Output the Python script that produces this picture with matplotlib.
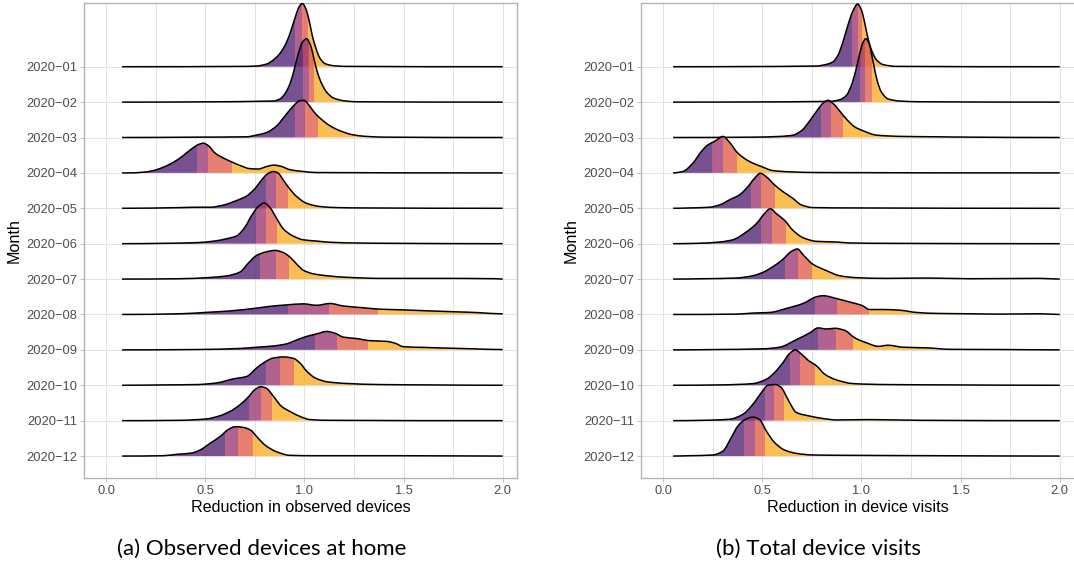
import numpy as np
import matplotlib
matplotlib.use('Agg')
import matplotlib.pyplot as plt
from matplotlib.patches import Rectangle, PathPatch
from matplotlib.path import Path

plt.rcParams['font.family'] = ['Liberation Sans', 'DejaVu Sans']

months = ['2020−01', '2020−02', '2020−03', '2020−04', '2020−05', '2020−06',
          '2020−07', '2020−08', '2020−09', '2020−10', '2020−11', '2020−12']

# (x, density height in row units), one list per month
home_pts = [
    [(0.08, 0), (0.70, 0.01), (0.759, 0.02), (0.809, 0.075), (0.843, 0.19), (0.877, 0.38), (0.907, 0.66),
     (0.930, 0.99), (0.952, 1.37), (0.972, 1.68), (0.989, 1.79), (1.006, 1.65), (1.023, 1.32), (1.039, 0.89),
     (1.058, 0.52), (1.078, 0.24), (1.103, 0.09), (1.145, 0.03), (1.213, 0.01), (2.0, 0)],
    [(0.08, 0), (0.843, 0.03), (0.877, 0.09), (0.902, 0.24), (0.927, 0.52), (0.947, 0.89), (0.969, 1.37),
     (0.989, 1.69), (1.011, 1.79), (1.031, 1.60), (1.048, 1.22), (1.065, 0.85), (1.087, 0.52), (1.112, 0.28),
     (1.145, 0.12), (1.196, 0.04), (1.263, 0.01), (2.0, 0)],
    [(0.08, 0), (0.45, 0.01), (0.709, 0.02), (0.759, 0.07), (0.809, 0.14), (0.860, 0.33), (0.902, 0.61),
     (0.944, 0.89), (0.977, 1.04), (0.998, 1.05), (1.019, 0.94), (1.044, 0.75), (1.078, 0.55), (1.129, 0.33),
     (1.179, 0.19), (1.246, 0.075), (1.313, 0.03), (1.414, 0.01), (2.0, 0)],
    [(0.08, 0), (0.12, 0), (0.188, 0.02), (0.238, 0.066), (0.288, 0.16), (0.339, 0.30), (0.389, 0.49),
     (0.431, 0.68), (0.465, 0.80), (0.490, 0.84), (0.515, 0.77), (0.549, 0.56), (0.591, 0.42), (0.633, 0.31),
     (0.675, 0.21), (0.725, 0.12), (0.767, 0.11), (0.809, 0.18), (0.846, 0.22), (0.885, 0.18), (0.927, 0.09),
     (0.994, 0.04), (1.061, 0.01), (2.0, 0)],
    [(0.08, 0), (0.372, 0.02), (0.457, 0.03), (0.524, 0.03), (0.591, 0.09), (0.658, 0.22), (0.709, 0.35),
     (0.751, 0.56), (0.784, 0.80), (0.813, 0.97), (0.843, 1.04), (0.868, 0.99), (0.893, 0.80), (0.924, 0.56),
     (0.961, 0.33), (1.011, 0.14), (1.078, 0.05), (1.162, 0.02), (1.297, 0.01), (2.0, 0)],
    [(0.08, 0), (0.288, 0.01), (0.457, 0.03), (0.540, 0.07), (0.608, 0.14), (0.658, 0.22), (0.700, 0.47),
     (0.734, 0.80), (0.767, 1.05), (0.797, 1.15), (0.826, 1.02), (0.860, 0.71), (0.893, 0.42), (0.935, 0.24),
     (0.994, 0.11), (1.061, 0.075), (1.129, 0.04), (1.263, 0.02), (1.465, 0.01), (2.0, 0)],
    [(0.08, 0), (0.372, 0.01), (0.507, 0.04), (0.608, 0.09), (0.675, 0.20), (0.717, 0.45), (0.759, 0.67),
     (0.801, 0.76), (0.851, 0.81), (0.893, 0.75), (0.927, 0.62), (0.961, 0.42), (0.994, 0.25), (1.044, 0.15),
     (1.129, 0.085), (1.213, 0.05), (1.380, 0.02), (1.633, 0.02), (1.969, 0.01), (2.0, 0)],
    [(0.08, 0), (0.372, 0.02), (0.507, 0.06), (0.624, 0.10), (0.759, 0.18), (0.843, 0.24), (0.910, 0.27),
     (0.994, 0.30), (1.061, 0.26), (1.129, 0.31), (1.196, 0.24), (1.297, 0.19), (1.380, 0.15), (1.499, 0.13),
     (1.633, 0.10), (1.767, 0.075), (1.885, 0.05), (1.985, 0.02), (2.0, 0.02)],
    [(0.08, 0), (0.457, 0.01), (0.675, 0.04), (0.759, 0.075), (0.843, 0.11), (0.910, 0.17), (0.961, 0.28),
     (1.011, 0.38), (1.061, 0.45), (1.112, 0.52), (1.154, 0.47), (1.196, 0.36), (1.263, 0.32), (1.330, 0.26),
     (1.414, 0.24), (1.456, 0.19), (1.499, 0.09), (1.599, 0.07), (1.717, 0.05), (1.851, 0.03), (1.985, 0.01),
     (2.0, 0.01)],
    [(0.08, 0), (0.288, 0.01), (0.457, 0.02), (0.557, 0.066), (0.641, 0.18), (0.709, 0.25), (0.759, 0.49),
     (0.801, 0.66), (0.843, 0.77), (0.893, 0.80), (0.944, 0.76), (0.977, 0.63), (1.011, 0.40), (1.053, 0.21),
     (1.112, 0.10), (1.213, 0.05), (1.380, 0.02), (1.633, 0.01), (2.0, 0)],
    [(0.08, 0), (0.372, 0.01), (0.507, 0.05), (0.574, 0.14), (0.624, 0.26), (0.675, 0.45), (0.717, 0.67),
     (0.751, 0.88), (0.779, 0.96), (0.809, 0.91), (0.843, 0.69), (0.885, 0.40), (0.927, 0.26), (0.977, 0.12),
     (1.028, 0.03), (1.129, 0.01), (2.0, 0)],
    [(0.08, 0), (0.288, 0.01), (0.356, 0.05), (0.431, 0.085), (0.473, 0.17), (0.524, 0.36), (0.574, 0.55),
     (0.616, 0.75), (0.650, 0.83), (0.692, 0.81), (0.729, 0.73), (0.759, 0.55), (0.801, 0.31), (0.860, 0.12),
     (0.927, 0.02), (1.044, 0.01), (1.465, 0.01), (2.0, 0)],
]
home_quartiles = [
    (0.952, 0.986, 1.016), (0.994, 1.023, 1.050), (0.952, 1.003, 1.070), (0.457, 0.515, 0.636),
    (0.806, 0.856, 0.915), (0.756, 0.804, 0.860), (0.776, 0.855, 0.924), (0.915, 1.123, 1.373),
    (1.053, 1.162, 1.318), (0.804, 0.877, 0.948), (0.720, 0.779, 0.835), (0.599, 0.666, 0.742),
]

visits_pts = [
    [(0.05, 0), (0.773, 0.02), (0.823, 0.066), (0.857, 0.14), (0.882, 0.33), (0.907, 0.71), (0.932, 1.18),
     (0.955, 1.55), (0.980, 1.77), (1.000, 1.60), (1.017, 1.22), (1.033, 0.80), (1.054, 0.42), (1.076, 0.19),
     (1.109, 0.06), (1.177, 0.01), (2.0, 0)],
    [(0.05, 0), (0.840, 0.02), (0.890, 0.066), (0.924, 0.19), (0.949, 0.47), (0.971, 0.89), (0.991, 1.37),
     (1.008, 1.69), (1.022, 1.79), (1.038, 1.65), (1.059, 1.13), (1.079, 0.61), (1.101, 0.28), (1.134, 0.09),
     (1.194, 0.03), (1.295, 0.01), (2.0, 0)],
    [(0.05, 0), (0.452, 0.01), (0.587, 0.03), (0.654, 0.066), (0.697, 0.19), (0.739, 0.47), (0.781, 0.80),
     (0.810, 0.99), (0.831, 1.05), (0.857, 0.96), (0.890, 0.75), (0.924, 0.52), (0.966, 0.30), (1.008, 0.19),
     (1.076, 0.066), (1.210, 0.03), (1.379, 0.02), (1.547, 0.01), (2.0, 0)],
    [(0.05, 0), (0.099, 0.04), (0.149, 0.27), (0.192, 0.60), (0.225, 0.79), (0.259, 0.89), (0.301, 1.03),
     (0.335, 0.86), (0.376, 0.56), (0.436, 0.32), (0.495, 0.18), (0.553, 0.066), (0.638, 0.03), (0.789, 0.01),
     (2.0, 0)],
    [(0.05, 0), (0.132, 0.01), (0.233, 0.03), (0.284, 0.094), (0.335, 0.24), (0.385, 0.38), (0.427, 0.61),
     (0.461, 0.85), (0.490, 0.99), (0.520, 0.89), (0.562, 0.66), (0.604, 0.47), (0.654, 0.28), (0.697, 0.094),
     (0.755, 0.02), (0.958, 0.01), (2.0, 0)],
    [(0.05, 0), (0.166, 0.01), (0.284, 0.047), (0.351, 0.11), (0.419, 0.33), (0.469, 0.56), (0.511, 0.85),
     (0.540, 0.99), (0.570, 0.85), (0.612, 0.66), (0.654, 0.38), (0.705, 0.17), (0.773, 0.066), (0.874, 0.047),
     (0.941, 0.02), (1.126, 0.01), (2.0, 0)],
    [(0.05, 0), (0.200, 0.01), (0.368, 0.03), (0.452, 0.094), (0.503, 0.19), (0.553, 0.35), (0.604, 0.56),
     (0.646, 0.78), (0.677, 0.85), (0.705, 0.69), (0.755, 0.42), (0.823, 0.24), (0.890, 0.094), (0.975, 0.04),
     (1.126, 0.02), (1.328, 0.03), (1.547, 0.01), (1.90, 0.02), (2.0, 0)],
    [(0.05, 0), (0.368, 0.01), (0.452, 0.04), (0.537, 0.057), (0.621, 0.17), (0.705, 0.31), (0.773, 0.50),
     (0.806, 0.53), (0.874, 0.45), (0.941, 0.35), (1.000, 0.26), (1.042, 0.14), (1.109, 0.14), (1.194, 0.12),
     (1.278, 0.057), (1.379, 0.03), (1.547, 0.02), (1.699, 0.01), (1.90, 0.02), (2.0, 0)],
    [(0.05, 0), (0.284, 0.01), (0.503, 0.03), (0.587, 0.075), (0.672, 0.29), (0.739, 0.48), (0.781, 0.62),
     (0.823, 0.59), (0.865, 0.61), (0.916, 0.55), (0.966, 0.34), (1.025, 0.20), (1.084, 0.10), (1.134, 0.13),
     (1.210, 0.075), (1.328, 0.057), (1.45, 0.015), (1.699, 0.01), (2.0, 0)],
    [(0.05, 0), (0.284, 0.01), (0.452, 0.047), (0.520, 0.17), (0.562, 0.36), (0.604, 0.64), (0.638, 0.90),
     (0.666, 1.00), (0.697, 0.88), (0.730, 0.71), (0.773, 0.55), (0.815, 0.31), (0.874, 0.15), (0.958, 0.047),
     (1.126, 0.02), (1.463, 0.01), (2.0, 0)],
    [(0.05, 0), (0.200, 0.01), (0.335, 0.04), (0.402, 0.18), (0.452, 0.46), (0.495, 0.79), (0.528, 1.00),
     (0.567, 1.02), (0.596, 0.93), (0.629, 0.60), (0.672, 0.23), (0.739, 0.13), (0.806, 0.06), (0.874, 0.02),
     (1.042, 0.03), (1.295, 0.01), (2.0, 0)],
    [(0.05, 0), (0.132, 0.01), (0.250, 0.03), (0.301, 0.14), (0.343, 0.52), (0.377, 0.85), (0.410, 1.02),
     (0.452, 1.10), (0.486, 1.03), (0.520, 0.71), (0.562, 0.38), (0.612, 0.17), (0.672, 0.075), (0.755, 0.03),
     (0.958, 0.02), (1.379, 0.01), (2.0, 0)],
]
visits_quartiles = [
    (0.953, 0.980, 1.005), (0.995, 1.020, 1.051), (0.798, 0.845, 0.907), (0.247, 0.301, 0.373),
    (0.441, 0.495, 0.565), (0.495, 0.550, 0.617), (0.612, 0.680, 0.750), (0.767, 0.879, 1.037),
    (0.781, 0.870, 0.958), (0.641, 0.692, 0.767), (0.511, 0.558, 0.609), (0.410, 0.461, 0.511),
]

x_ticks = [0.0, 0.5, 1.0, 1.5, 2.0]
x_ticklabels = ['0.0', '0.5', '1.0', '1.5', '2.0']

FILL_COLORS = ['#562775', '#9F3B72', '#E2604C', '#FBAE27']
FILL_ALPHA  = 0.8
GRID_COLOR  = '#E3E3E3'
FRAME_COLOR = '#B3B3B3'
TICK_TEXT   = '#4D4D4D'

W, H = 1074, 573


def curve_vertices(x, y):
    """Bezier path through the read points (monotone cubic slopes, no overshoot)."""
    dx = np.diff(x)
    sl = np.diff(y) / dx
    m = np.zeros_like(y)
    for i in range(1, len(x) - 1):
        if sl[i - 1] * sl[i] > 0:
            w1 = 2 * dx[i] + dx[i - 1]
            w2 = dx[i] + 2 * dx[i - 1]
            m[i] = (w1 + w2) / (w1 / sl[i - 1] + w2 / sl[i])
    verts = [(x[0], y[0])]
    codes = [Path.MOVETO]
    for i in range(len(x) - 1):
        d = dx[i] / 3
        verts += [(x[i] + d, y[i] + m[i] * d), (x[i + 1] - d, y[i + 1] - m[i + 1] * d),
                  (x[i + 1], y[i + 1])]
        codes += [Path.CURVE4] * 3
    return verts, codes


def draw_ridges(ax, curves, quartiles):
    n = len(curves)
    for i, (pts, qs) in enumerate(zip(curves, quartiles)):
        base = n - 1 - i
        x = np.array([p[0] for p in pts], dtype=float)
        h = np.array([p[1] for p in pts], dtype=float)
        verts, codes = curve_vertices(x, base + h)
        edges = [x[0]] + list(qs) + [x[-1]]
        z = 3 + i
        area = Path(verts + [(x[-1], base), (x[0], base), (x[0], base)],
                    codes + [Path.LINETO, Path.LINETO, Path.CLOSEPOLY])
        for k, c in enumerate(FILL_COLORS):
            patch = PathPatch(area, facecolor=c, alpha=FILL_ALPHA, lw=0, zorder=z)
            ax.add_patch(patch)
            clip = Rectangle((edges[k], base - 0.2), edges[k + 1] - edges[k], 3.0,
                             transform=ax.transData)
            patch.set_clip_path(clip)
        ax.add_patch(PathPatch(Path(verts, codes), facecolor='none', edgecolor='black',
                               lw=1.1, zorder=z + 0.5))


def style_axis(ax, xlabel, x_right):
    ax.set_xlim(-0.112, x_right)
    ax.set_ylim(-0.62, 12.80)
    ax.set_xticks(x_ticks)
    ax.set_xticklabels(x_ticklabels)
    ax.set_xticks(np.arange(0.25, 2.0, 0.5), minor=True)
    ax.set_yticks(range(len(months)))
    ax.set_yticklabels(months[::-1])
    ax.grid(True, which='both', axis='x', color=GRID_COLOR, lw=0.7, zorder=0)
    ax.grid(True, which='major', axis='y', color=GRID_COLOR, lw=0.7, zorder=0)
    ax.set_axisbelow(True)
    ax.tick_params(which='major', length=2.75, width=0.6, color=FRAME_COLOR,
                   labelcolor=TICK_TEXT, labelsize=9.3, pad=2.2)
    ax.tick_params(which='minor', length=0)
    for s in ax.spines.values():
        s.set_color(FRAME_COLOR)
        s.set_linewidth(1.0)
    pos = ax.get_position()
    cx = pos.x0 + 216.5 / W
    fig.text(cx, 1 - 508 / H, xlabel, ha='center', va='center',
             fontsize=11.6, color='black')
    fig.text(pos.x0 - 70 / W, (pos.y0 + pos.y1) / 2, 'Month', rotation=90,
             ha='center', va='center', fontsize=11.6, color='black')


fig = plt.figure(figsize=(W / 100, H / 100), dpi=100)
ax_h = 475 / H
ax1 = fig.add_axes([84 / W, 1 - 478 / H, 433 / W, ax_h])
ax2 = fig.add_axes([641 / W, 1 - 478 / H, 436 / W, ax_h])

draw_ridges(ax1, home_pts, home_quartiles)
draw_ridges(ax2, visits_pts, visits_quartiles)
style_axis(ax1, 'Reduction in observed devices', 2.072)
style_axis(ax2, 'Reduction in device visits', 2.087)

fig.text(262 / W, 1 - 549 / H, '(a) Observed devices at home', ha='center', va='center',
         fontsize=16, family=['Lato', 'DejaVu Sans'])
fig.text(819 / W, 1 - 549 / H, '(b) Total device visits', ha='center', va='center',
         fontsize=16, family=['Lato', 'DejaVu Sans'])

fig.savefig('out.png', dpi=100)
